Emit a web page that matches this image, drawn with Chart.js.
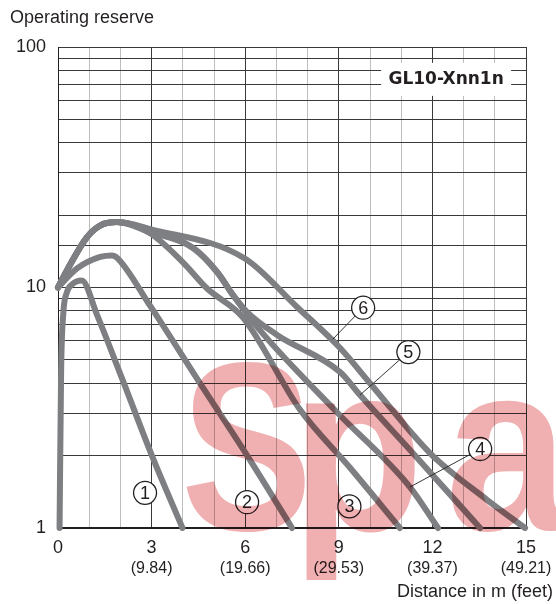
<!DOCTYPE html>
<html>
<head>
<meta charset="utf-8">
<script src="https://cdn.jsdelivr.net/npm/chart.js@4.4.1/dist/chart.umd.min.js"></script>
<style>
  html, body { margin: 0; padding: 0; background: #fff; }
  #wrap { width: 556px; height: 604px; position: relative; }
</style>
</head>
<body>
<div id="wrap"><canvas id="reserveChart"></canvas></div>
<script>
// distance in m / operating reserve
const c1Dist = [0.05, 0.1, 0.17, 0.28, 0.45, 0.76, 1.25, 2.08, 3.01, 3.99];
const c1Res  = [1.0, 4.5, 7.8, 9.5, 10.3, 10.7, 7.7, 4.1, 2.0, 1.0];

const c2Dist = [0, 0.61, 1.35, 1.73, 1.92, 2.95, 4.55, 6.15, 7.5];
const c2Res  = [10, 12.0, 13.4, 13.6, 13.2, 8.4, 4.0, 1.92, 1.0];

// rising part shared by curves 3..6
const riseDist = [0, 0.29, 0.93, 1.35, 1.89];
const riseRes  = [10, 11.8, 16.2, 18.1, 18.7];

const c3Dist = [2.95, 4.01, 4.78, 5.93, 7.76, 9.36, 10.96];
const c3Res  = [16.8, 12.7, 9.9, 7.5, 3.1, 1.78, 1.0];

const c4Dist = [2.95, 4.33, 5.1, 5.61, 6.47, 8.94, 11.28, 12.18];
const c4Res  = [17.0, 14.6, 11.6, 9.3, 6.65, 3.03, 1.48, 1.0];

const c5Dist = [2.95, 4.33, 5.1, 5.61, 6.06, 7.02, 9.04, 9.68, 11.6, 13.53];
const c5Res  = [17.3, 14.6, 11.6, 9.3, 7.9, 6.35, 4.45, 3.57, 1.9, 1.0];

const c6Dist = [2.95, 5.99, 7.66, 9.04, 10.0, 11.92, 13.75, 14.97];
const c6Res  = [17.5, 13.2, 8.3, 5.6, 4.0, 2.05, 1.31, 1.0];

const xMajor = [0, 3, 6, 9, 12, 15];
const xFeet = ['', '(9.84)', '(19.66)', '(29.53)', '(39.37)', '(49.21)'];
const yLabels = [1, 10, 100];

const modelName = 'GL10-Xnn1n';
// circled curve numbers: [label, x, y, leader end x, leader end y]
const markers = [
  ['1', 2.79, 1.40, null, null],
  ['2', 6.06, 1.28, null, null],
  ['3', 9.34, 1.23, null, null],
  ['4', 13.53, 2.13, 11.28, 1.48],
  ['5', 11.23, 5.39, 9.68, 3.57],
  ['6', 9.78, 8.24, 8.81, 6.1]
];

const lineGray = '#7d7f82';
const ink = '#231f20';

function pts(xs, ys) {
  return xs.map((v, i) => ({ x: v, y: ys[i] }));
}
function curve(xs, ys) {
  return {
    data: pts(xs, ys),
    borderColor: lineGray,
    borderWidth: 6,
    borderCapStyle: 'round',
    borderJoinStyle: 'round',
    pointRadius: 0,
    fill: false,
    clip: false,
    cubicInterpolationMode: 'monotone'
  };
}

const decor = {
  id: 'decor',
  afterDatasetsDraw(chart) {
    const { ctx, scales: { x, y } } = chart;
    ctx.save();
    // model name box
    const bx = x.getPixelForValue(12.44), by = y.getPixelForValue(73.7);
    ctx.fillStyle = '#fff';
    ctx.fillRect(bx - 65, by - 16, 130, 33);
    ctx.fillStyle = ink;
    ctx.font = 'bold 17px "DejaVu Sans"';
    ctx.textAlign = 'center';
    ctx.textBaseline = 'middle';
    ctx.fillText(modelName, bx, by + 1);

    // circled numbers + leaders
    const r = 11.5;
    markers.forEach(m => {
      const cx = x.getPixelForValue(m[1]), cy = y.getPixelForValue(m[2]);
      if (m[3] !== null) {
        const ex = x.getPixelForValue(m[3]), ey = y.getPixelForValue(m[4]);
        const d = Math.hypot(ex - cx, ey - cy);
        ctx.beginPath();
        ctx.moveTo(cx + (ex - cx) / d * r, cy + (ey - cy) / d * r);
        ctx.lineTo(ex, ey);
        ctx.strokeStyle = ink;
        ctx.lineWidth = 0.9;
        ctx.stroke();
      }
      ctx.beginPath();
      ctx.arc(cx, cy, r, 0, Math.PI * 2);
      ctx.fillStyle = '#fff';
      ctx.fill();
      ctx.lineWidth = 1.3;
      ctx.strokeStyle = ink;
      ctx.stroke();
      ctx.fillStyle = ink;
      ctx.font = '18px "Liberation Sans"';
      ctx.fillText(m[0], cx, cy + 1);
    });
    ctx.restore();
  },
  afterDraw(chart) {
    const { ctx, scales: { x } } = chart;
    ctx.save();
    ctx.fillStyle = ink;
    ctx.textBaseline = 'middle';
    ctx.font = '18px "Liberation Sans"';
    ctx.textAlign = 'left';
    ctx.fillText('Operating reserve', 10, 18);
    ctx.textAlign = 'right';
    ctx.fillText('Distance in m (feet)', 553, 592);
    ctx.textAlign = 'center';
    ctx.font = '16px "Liberation Sans"';
    xMajor.forEach((v, i) => {
      if (xFeet[i]) ctx.fillText(xFeet[i], x.getPixelForValue(v), 569);
    });

    // pale watermark letters, slightly condensed
    ctx.globalCompositeOperation = 'multiply';
    ctx.fillStyle = 'rgb(240,176,178)';
    ctx.font = 'bold 240px "Liberation Sans"';
    ctx.textAlign = 'left';
    ctx.textBaseline = 'alphabetic';
    [['S', 186, 0.82], ['p', 305, 0.9], ['a', 452, 0.92]].forEach(([ch, left, sx]) => {
      const mt = ctx.measureText(ch);
      ctx.save();
      ctx.translate(left, 530);
      ctx.scale(sx, 1);
      ctx.fillText(ch, mt.actualBoundingBoxLeft, 0);
      ctx.restore();
    });
    ctx.restore();
  }
};

new Chart(document.getElementById('reserveChart'), {
  type: 'line',
  data: {
    datasets: [
      curve(c1Dist, c1Res),
      curve(c2Dist, c2Res),
      curve(riseDist.concat(c3Dist), riseRes.concat(c3Res)),
      curve(riseDist.concat(c4Dist), riseRes.concat(c4Res)),
      curve(riseDist.concat(c5Dist), riseRes.concat(c5Res)),
      curve(riseDist.concat(c6Dist), riseRes.concat(c6Res))
    ]
  },
  options: {
    responsive: true,
    maintainAspectRatio: false,
    animation: false,
    layout: { padding: { top: 47, right: 30, left: 0, bottom: 0 } },
    plugins: { legend: { display: false }, tooltip: { enabled: false } },
    scales: {
      x: {
        type: 'linear',
        min: 0,
        max: 15,
        afterFit(s) { s.height = 76; },
        ticks: {
          stepSize: 1,
          autoSkip: false,
          maxRotation: 0,
          padding: 9,
          color: ink,
          font: { family: 'Liberation Sans', size: 18 },
          callback: v => (xMajor.includes(v) ? String(v) : '')
        },
        grid: {
          drawTicks: false,
          lineWidth: 1,
          color: c => (c.tick && c.tick.value % 3 === 0 ? '#3a3a3a' : '#bdbdbd')
        },
        border: { color: ink, width: 2 }
      },
      y: {
        type: 'logarithmic',
        min: 1,
        max: 100,
        afterFit(s) { s.width = 58; },
        ticks: {
          autoSkip: false,
          padding: 12,
          color: ink,
          font: { family: 'Liberation Sans', size: 18 },
          callback: v => (yLabels.includes(v) ? String(v) : '')
        },
        grid: { drawTicks: false, lineWidth: 1, color: '#3a3a3a' },
        border: { color: ink, width: 1 }
      }
    }
  },
  plugins: [decor]
});
</script>
</body>
</html>
